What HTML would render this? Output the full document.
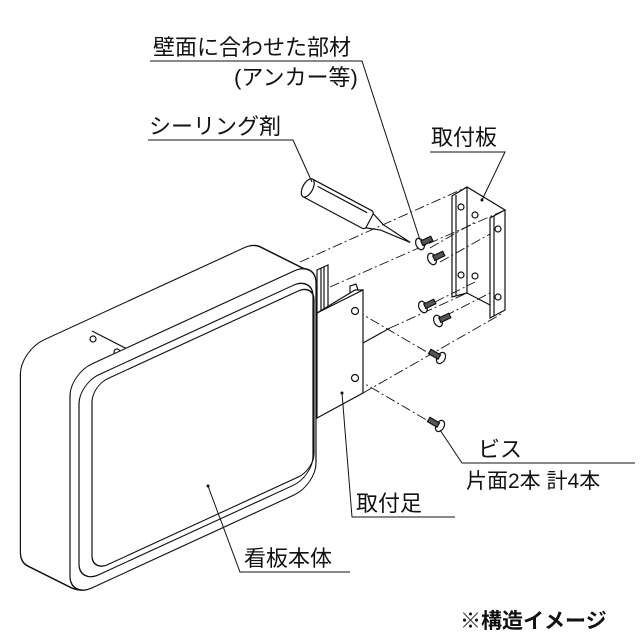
<!DOCTYPE html><html><head><meta charset="utf-8"><style>
html,body{margin:0;padding:0;background:#fff;}
svg{display:block}
text{font-family:"Liberation Sans","Noto Sans CJK JP",sans-serif;fill:#111;}
</style></head><body>
<svg width="640" height="640" viewBox="0 0 640 640" xmlns="http://www.w3.org/2000/svg">
<defs>
<rect id="br" x="0" y="-6" width="246" height="224" rx="23"/>
<g id="stack">
<g transform="translate(21,357) skewY(-24.7)"><use href="#br"/></g>
<g transform="translate(23,358) skewY(-24.7)"><use href="#br"/></g>
<g transform="translate(25,359) skewY(-24.7)"><use href="#br"/></g>
<g transform="translate(27,360) skewY(-24.7)"><use href="#br"/></g>
<g transform="translate(29,361) skewY(-24.7)"><use href="#br"/></g>
<g transform="translate(31,362) skewY(-24.7)"><use href="#br"/></g>
<g transform="translate(33,363) skewY(-24.7)"><use href="#br"/></g>
<g transform="translate(35,364) skewY(-24.7)"><use href="#br"/></g>
<g transform="translate(37,365) skewY(-24.7)"><use href="#br"/></g>
<g transform="translate(39,366) skewY(-24.7)"><use href="#br"/></g>
<g transform="translate(41,367) skewY(-24.7)"><use href="#br"/></g>
<g transform="translate(43,368) skewY(-24.7)"><use href="#br"/></g>
<g transform="translate(45,369) skewY(-24.7)"><use href="#br"/></g>
<g transform="translate(47,370) skewY(-24.7)"><use href="#br"/></g>
<g transform="translate(49,371) skewY(-24.7)"><use href="#br"/></g>
<g transform="translate(51,372) skewY(-24.7)"><use href="#br"/></g>
<g transform="translate(53,373) skewY(-24.7)"><use href="#br"/></g>
<g transform="translate(55,374) skewY(-24.7)"><use href="#br"/></g>
<g transform="translate(57,375) skewY(-24.7)"><use href="#br"/></g>
<g transform="translate(59,376) skewY(-24.7)"><use href="#br"/></g>
<g transform="translate(61,377) skewY(-24.7)"><use href="#br"/></g>
<g transform="translate(63,378) skewY(-24.7)"><use href="#br"/></g>
<g transform="translate(65,379) skewY(-24.7)"><use href="#br"/></g>
<g transform="translate(67,379.5) skewY(-24.7)"><use href="#br"/></g>
</g>
</defs>
<g fill="none" stroke="#111" stroke-width="1.2">
<g stroke-dasharray="10,3,2,3" stroke-width="0.9">
<line x1="300" y1="262" x2="467" y2="187"/>
<line x1="330" y1="287" x2="505" y2="210"/>
<line x1="390" y1="328" x2="467" y2="293"/>
<line x1="363" y1="393" x2="503" y2="313"/>
<line x1="430" y1="248" x2="475" y2="222"/>
<line x1="440" y1="262" x2="490" y2="234"/>
<line x1="435" y1="302" x2="475" y2="282"/>
<line x1="445" y1="316" x2="490" y2="293"/>
<line x1="355" y1="310" x2="437" y2="358"/>
<line x1="355" y1="378" x2="435" y2="425"/>
</g>
<use href="#stack" fill="none" stroke="#111" stroke-width="2.4"/>
<use href="#stack" fill="#fff" stroke="none"/>
<line x1="92" y1="331" x2="135" y2="353"/>
<line x1="135" y1="353" x2="135" y2="368"/>
<circle cx="93" cy="339" r="3"/><circle cx="117" cy="352" r="3"/>
<g transform="translate(70,380) skewY(-24.7)">
<rect x="0" y="-6" width="246" height="224" rx="22" fill="#fff"/>
<rect x="9" y="8" width="234" height="200" rx="20"/>
<rect x="22" y="16" width="222" height="186" rx="16"/>
</g>
<path d="M317 313 L317 270 L328 265 L328 308"/>
<line x1="321" y1="312" x2="321" y2="268"/>
<line x1="324" y1="311" x2="324" y2="267"/>
<path d="M317 313 L363 290 L363 393 L317 418 Z" fill="#fff"/>
<path d="M317 313 L355 290 L363 290"/>
<path d="M363 343 L390 328"/>
<path d="M350 293 L350 286 L356 284 L358 290"/>
<circle cx="355" cy="311" r="3.5"/><circle cx="355" cy="378" r="3.5"/>
<path d="M452 196 L467 187 L505 210 L490 218 L490 318 L505 310 L505 210"/>
<path d="M452 196 L452 297 L467 293 L467 187"/>
<path d="M456 195 L456 296"/>
<path d="M467 293 L490 305"/>
<path d="M494 216 L494 316"/>
<circle cx="461" cy="207" r="3"/><circle cx="461" cy="275" r="3"/>
<circle cx="475" cy="215" r="3"/><circle cx="475" cy="276" r="3"/>
<circle cx="498" cy="229" r="3"/><circle cx="498" cy="297" r="3"/>
<g transform="translate(306,187) rotate(28)">
<rect x="0" y="-10" width="72" height="20" rx="3" fill="#fff"/>
<ellipse cx="2" cy="0" rx="5" ry="10" fill="#fff"/>
<path d="M72 -8 L86 -3 L118 0 L86 3 L72 8"/>
<line x1="10" y1="-6" x2="66" y2="-6"/>
</g>
<g fill="#fff">
<g transform="translate(420,244) rotate(-25)"><ellipse rx="4" ry="6"/><rect x="2" y="-2.5" width="11" height="5" fill="#555"/></g>
<g transform="translate(432,259) rotate(-25)"><ellipse rx="4" ry="6"/><rect x="2" y="-2.5" width="11" height="5" fill="#555"/></g>
<g transform="translate(423,307) rotate(-25)"><ellipse rx="4" ry="6"/><rect x="2" y="-2.5" width="11" height="5" fill="#555"/></g>
<g transform="translate(438,321) rotate(-25)"><ellipse rx="4" ry="6"/><rect x="2" y="-2.5" width="11" height="5" fill="#555"/></g>
<g transform="translate(441,358) rotate(-150)"><ellipse rx="4" ry="6"/><rect x="2" y="-2.5" width="11" height="5" fill="#555"/></g>
<g transform="translate(440,426) rotate(-150)"><ellipse rx="4" ry="6"/><rect x="2" y="-2.5" width="11" height="5" fill="#555"/></g>
</g>
<g stroke-width="1">
<path d="M150 61 L362 61 L420 240"/>
<path d="M148 140 L293 140 L312 182"/>
<path d="M430 152 L505 152 L482 200"/>
<path d="M635 463 L462 463 L440 430"/>
<path d="M455 517 L352 517 L342 393"/>
<path d="M350 572 L240 572 L208 486"/>
</g>
</g>
<circle cx="208" cy="486" r="1.5" fill="#111"/>
<circle cx="342" cy="393" r="1.5" fill="#111"/>
<circle cx="482" cy="200" r="1.5" fill="#111"/>
<g font-size="22">
<text x="153" y="55">壁面に合わせた部材</text>
<text x="234" y="85">(アンカー等)</text>
<text x="149" y="134">シーリング剤</text>
<text x="431" y="145">取付板</text>
<text x="478" y="457">ビス</text>
<text x="466" y="488" font-size="21">片面2本 計4本</text>
<text x="356" y="511">取付足</text>
<text x="244" y="566">看板本体</text>
<text x="460" y="628" font-weight="bold" font-size="21">※構造イメージ</text>
</g>
</svg>
</body></html>
